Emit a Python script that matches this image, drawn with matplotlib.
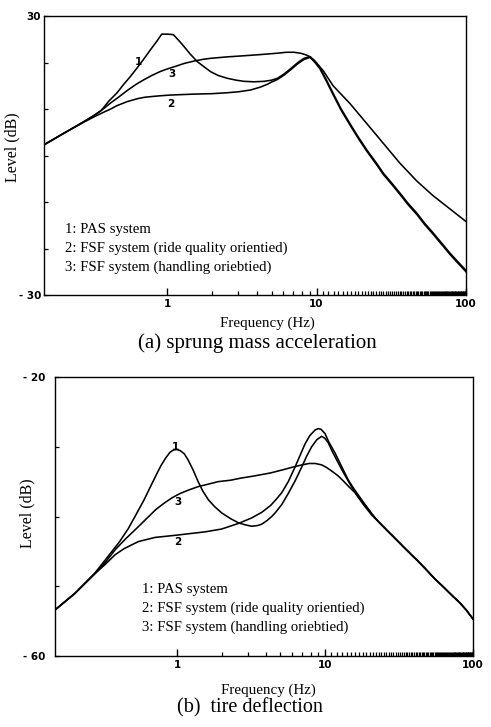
import matplotlib
matplotlib.use('Agg')
import matplotlib.pyplot as plt

W, H = 491, 727
fig = plt.figure(figsize=(W / 100, H / 100), dpi=100)

# ---------------- (a) sprung mass acceleration ----------------
a_pas_f = [0.15, 0.204, 0.278, 0.324, 0.36, 0.41, 0.46, 0.515, 0.565, 0.632, 0.70, 0.776,
           0.85, 0.92, 1.0, 1.10, 1.2, 1.30, 1.42, 1.59, 1.78, 1.96, 2.2, 2.53, 2.9, 3.27,
           3.8, 4.45, 5.0, 5.47, 6.1, 6.72, 7.5, 8.24, 9.04,
           9.7, 10.5, 11.5, 12.9, 14.5, 16.7, 19.0, 21.7, 25.0, 28.0, 32.0, 36.2, 41.0,
           46.9, 53.0, 60.5, 69.0, 78.2, 88.0, 100]
a_pas_v = [2.3, 4.8, 7.3, 8.6, 9.6, 11.8, 13.4, 15.4, 16.9, 18.9, 20.8, 22.8,
           24.5, 26.1, 26.1, 26.0, 24.7, 23.4, 21.9, 20.2, 19.0, 18.0, 17.2, 16.6, 16.2, 15.95,
           15.85, 15.95, 16.2, 16.6, 17.6, 18.7, 20.0, 20.9, 21.25,
           20.4, 19.0, 16.6, 13.4, 10.2, 6.9, 4.0, 1.2, -1.5, -3.8, -6.0, -8.1, -10.3,
           -12.4, -14.6, -16.7, -18.9, -21.0, -22.8, -24.7]

a_ride_f = [0.15, 0.204, 0.278, 0.324, 0.37, 0.419, 0.46, 0.542, 0.63, 0.70, 0.80, 0.906,
            1.05, 1.51, 2.0, 2.53, 3.0, 3.63, 4.2, 4.68, 5.0, 5.47, 6.1, 6.72, 7.5, 8.24, 9.04,
            9.7, 10.5, 11.5, 12.9, 14.5, 16.7, 19.0, 21.7, 25.0, 28.0, 32.0, 36.2, 41.0,
            46.9, 53.0, 60.5, 69.0, 78.2, 88.0, 100]
a_ride_v = [2.3, 4.8, 7.2, 8.3, 9.2, 10.0, 10.7, 11.6, 12.2, 12.5, 12.7, 12.85,
            13.0, 13.2, 13.3, 13.5, 13.7, 14.1, 14.7, 15.3, 15.8, 16.35, 17.35, 18.45, 19.75, 20.65, 21.1,
            20.1, 18.7, 16.3, 13.1, 9.9, 6.6, 3.7, 0.9, -1.8, -4.1, -6.3, -8.4, -10.6,
            -12.7, -14.9, -17.0, -19.2, -21.3, -23.1, -25.0]

a_hand_f = [0.15, 0.204, 0.278, 0.324, 0.37, 0.419, 0.48, 0.542, 0.62, 0.70, 0.80, 0.906,
            1.0, 1.17, 1.30, 1.51, 1.75, 1.96, 2.5, 3.27, 4.2, 5.47, 6.3, 7.07, 7.8, 8.4, 9.04,
            10.0, 11.1, 12.9, 16.7, 21.0, 28.0, 36.0, 46.9, 60.0, 78.2, 100]
a_hand_v = [2.3, 4.8, 7.3, 8.6, 9.9, 11.3, 12.7, 14.0, 15.3, 16.3, 17.3, 18.1,
            18.6, 19.3, 19.8, 20.3, 20.7, 20.9, 21.2, 21.45, 21.7, 22.0, 22.2, 22.2, 22.0, 21.7, 21.25,
            19.9, 18.2, 15.0, 11.2, 7.4, 2.6, -1.6, -5.5, -8.6, -11.5, -14.2]

# ---------------- (b) tire deflection ----------------
b_pas_f = [0.15, 0.205, 0.279, 0.34, 0.41, 0.47, 0.53, 0.60, 0.67, 0.73, 0.78, 0.84,
           0.897, 0.95, 1.0, 1.05, 1.12, 1.19, 1.29, 1.39, 1.5, 1.63, 1.8, 2.01, 2.3, 2.6,
           2.9, 3.2, 3.5, 3.74, 4.05, 4.37, 4.6, 5.1, 5.65, 6.28, 6.97, 7.5, 8.13, 8.8,
           9.5, 10.0, 10.5, 11.1, 12.0, 13.0, 14.8, 16.0, 18.2, 20.7, 22.4, 26.0, 29.0,
           33.0, 37.6, 43.0, 48.7, 55.0, 63.1, 72.0, 81.7, 90.0, 100]
b_pas_v = [-53.4, -51.0, -48.1, -45.8, -43.6, -41.7, -39.7, -37.6, -35.5, -33.9, -32.7, -31.6,
           -30.8, -30.45, -30.4, -30.55, -31.0, -31.9, -33.4, -35.0, -36.4, -37.6, -38.6, -39.5, -40.3, -40.9,
           -41.2, -41.4, -41.3, -41.1, -40.6, -40.0, -39.5, -38.3, -36.7, -34.9, -32.9, -31.4, -30.0, -29.0,
           -28.5, -28.8, -29.4, -30.5, -31.9, -33.3, -35.4, -36.6, -38.3, -39.8, -40.5, -41.9, -42.9,
           -44.1, -45.3, -46.5, -47.7, -48.9, -50.1, -51.3, -52.4, -53.4, -54.7]

b_ride_f = [0.15, 0.205, 0.279, 0.33, 0.381, 0.44, 0.548, 0.711, 0.97, 1.55, 2.0, 2.6,
            3.2, 3.74, 4.3, 4.7, 5.1, 5.65, 6.28, 6.8, 7.33, 7.9, 8.57, 9.0, 9.4, 10.0,
            10.6, 11.7, 13.0, 14.4, 16.0, 17.7, 20.7, 22.4, 26.0, 29.0,
            33.0, 37.6, 43.0, 48.7, 55.0, 63.1, 72.0, 81.7, 90.0, 100]
b_ride_v = [-53.4, -51.0, -48.2, -46.8, -45.5, -44.6, -43.6, -43.0, -42.7, -42.2, -41.8, -41.0,
            -40.2, -39.4, -38.4, -37.5, -36.6, -35.0, -32.9, -31.2, -29.6, -28.4, -27.6, -27.4, -27.5, -28.1,
            -29.3, -30.9, -32.9, -34.8, -36.3, -37.6, -39.6, -40.5, -41.9, -42.9,
            -44.1, -45.3, -46.5, -47.7, -48.9, -50.1, -51.3, -52.4, -53.4, -54.7]

b_hand_f = [0.15, 0.205, 0.279, 0.33, 0.385, 0.45, 0.54, 0.63, 0.72, 0.83, 0.93, 1.05,
            1.2, 1.4, 1.6, 1.9, 2.3, 2.7, 3.3, 4.3, 5.2, 6.1, 7.0, 7.8, 8.6, 9.5, 10.3,
            11.3, 12.3, 13.3, 14.6, 16.0, 17.5, 19.0, 20.7, 22.4, 26.0, 29.0,
            33.0, 37.6, 43.0, 48.7, 55.0, 63.1, 72.0, 81.7, 90.0, 100]
b_hand_v = [-53.4, -51.0, -48.2, -46.5, -44.7, -43.2, -41.6, -40.2, -39.0, -38.0, -37.3, -36.7,
            -36.2, -35.7, -35.4, -35.0, -34.8, -34.5, -34.2, -33.75, -33.3, -32.9, -32.6, -32.4, -32.4, -32.6, -33.0,
            -33.6, -34.2, -34.9, -35.8, -36.6, -37.7, -38.6, -39.6, -40.5, -41.9, -42.9,
            -44.1, -45.3, -46.5, -47.7, -48.9, -50.1, -51.3, -52.4, -53.4, -54.7]

legend_lines = ["1: PAS system",
                "2: FSF system (ride quality orientied)",
                "3: FSF system (handling oriebtied)"]
xtick_vals = [1, 10, 100]
xtick_labels = ["1", "10", "100"]
minor_vals = [2, 3, 4, 5, 6, 7, 8, 9] + list(range(11, 100))

a_yticks = [-30, -20, -10, 0, 10, 20, 30]
a_ylabels = ["- 30", "", "", "", "", "", "30"]
b_yticks = [-60, -50, -40, -30, -20]
b_ylabels = ["- 60", "", "", "", "- 20"]

serif = ["Liberation Serif", "DejaVu Serif"]
sans_bold = dict(family="DejaVu Sans", weight="bold", size=7.5)
LW = 1.15


def px_axes(l, t, r, b):
    return [l / W, 1 - b / H, (r - l) / W, (b - t) / H]


def style(ax, yt, yl, ylim, ypad):
    ax.set_xscale('log')
    ax.set_xlim(0.15, 100)
    ax.set_ylim(*ylim)
    ax.set_xticks(xtick_vals)
    ax.set_xticklabels(xtick_labels, fontdict=sans_bold)
    ax.set_xticks(minor_vals, minor=True)
    ax.set_xticklabels([], minor=True)
    ax.set_yticks(yt)
    ax.set_yticklabels(yl, fontdict=sans_bold)
    ax.set_yticks([], minor=True)
    ax.tick_params(axis='x', which='major', direction='in', length=5, width=1.0,
                   top=False, pad=3)
    ax.tick_params(axis='x', which='minor', direction='in', length=3, width=0.9, top=False)
    ax.tick_params(axis='y', which='major', direction='in', length=3, width=0.9,
                   right=False, pad=ypad)
    for s in ax.spines.values():
        s.set_linewidth(1.0)


# top axes
ax1 = fig.add_axes(px_axes(44, 16, 466, 295))
ax1.plot(a_pas_f, a_pas_v, color='black', lw=LW)
ax1.plot(a_ride_f, a_ride_v, color='black', lw=LW)
ax1.plot(a_hand_f, a_hand_v, color='black', lw=LW)
style(ax1, a_yticks, a_ylabels, (-30, 30), 2)
ax1.text(0.64, 20.2, "1", ha='center', va='center', **sans_bold)
ax1.text(1.08, 17.5, "3", ha='center', va='center', **sans_bold)
ax1.text(1.05, 11.1, "2", ha='center', va='center', **sans_bold)
for yy, s in zip([0.233, 0.168, 0.100], legend_lines):
    ax1.text(0.05, yy, s, transform=ax1.transAxes, ha='left', va='center',
             family=serif, size=10.6)

# bottom axes
ax2 = fig.add_axes(px_axes(55, 377, 473, 656))
ax2.plot(b_pas_f, b_pas_v, color='black', lw=LW)
ax2.plot(b_ride_f, b_ride_v, color='black', lw=LW)
ax2.plot(b_hand_f, b_hand_v, color='black', lw=LW)
style(ax2, b_yticks, b_ylabels, (-60, -20), 7)
ax2.text(0.97, -30.0, "1", ha='center', va='center', **sans_bold)
ax2.text(1.02, -37.9, "3", ha='center', va='center', **sans_bold)
ax2.text(1.02, -43.6, "2", ha='center', va='center', **sans_bold)
for yy, s in zip([0.237, 0.171, 0.103], legend_lines):
    ax2.text(0.207, yy, s, transform=ax2.transAxes, ha='left', va='center',
             family=serif, size=10.6)

# axis labels and captions
fig.text(12 / W, 1 - 147 / H, "Level (dB)", rotation=90, ha='center', va='center',
         family=serif, size=11.5)
fig.text(27 / W, 1 - 513 / H, "Level (dB)", rotation=90, ha='center', va='center',
         family=serif, size=11.5)
fig.text(267 / W, 1 - 323 / H, "Frequency (Hz)", ha='center', va='center',
         family=serif, size=10.8)
fig.text(268 / W, 1 - 690 / H, "Frequency (Hz)", ha='center', va='center',
         family=serif, size=10.8)
fig.text(257 / W, 1 - 343 / H, "(a) sprung mass acceleration", ha='center', va='center',
         family=serif, size=15)
fig.text(250 / W, 1 - 708 / H, "(b)  tire deflection", ha='center', va='center',
         family=serif, size=14.5)

fig.savefig("out.png", dpi=100)
